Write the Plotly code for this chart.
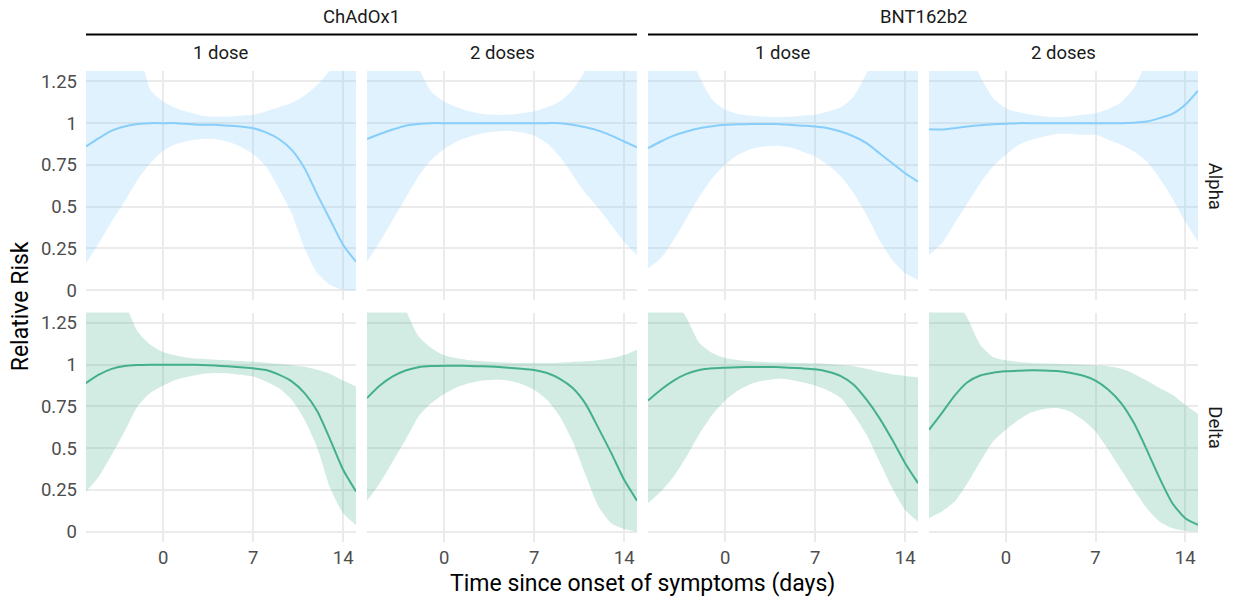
import plotly.graph_objects as go

days = list(range(-6, 16))

vaccines = ["ChAdOx1", "BNT162b2"]
doses = ["1 dose", "2 doses"]
variants = ["Alpha", "Delta"]

# Alpha ------------------------------------------------------------
alpha_chad_1_est = [0.86, 0.91, 0.955, 0.98, 0.995, 1.0, 1.0, 1.0, 0.995, 0.99, 0.99, 0.985, 0.98, 0.97, 0.945, 0.905, 0.84, 0.73, 0.57, 0.42, 0.27, 0.17]
alpha_chad_1_lo = [0.16, 0.28, 0.41, 0.53, 0.66, 0.76, 0.835, 0.875, 0.895, 0.905, 0.905, 0.89, 0.86, 0.815, 0.74, 0.61, 0.46, 0.25, 0.10, 0.03, 0.0, 0.0]
alpha_chad_1_hi = [2.1, 1.9, 1.75, 1.62, 1.48, 1.20, 1.13, 1.09, 1.065, 1.045, 1.04, 1.04, 1.045, 1.05, 1.07, 1.095, 1.12, 1.165, 1.23, 1.32, 1.5, 1.7]

alpha_chad_2_est = [0.905, 0.935, 0.962, 0.985, 0.995, 1.0, 1.0, 1.0, 1.0, 1.0, 1.0, 1.0, 1.0, 1.0, 1.0, 1.0, 0.99, 0.975, 0.955, 0.925, 0.89, 0.855]
alpha_chad_2_lo = [0.17, 0.29, 0.42, 0.55, 0.68, 0.78, 0.845, 0.89, 0.92, 0.94, 0.95, 0.955, 0.945, 0.925, 0.88, 0.80, 0.69, 0.58, 0.49, 0.39, 0.29, 0.21]
alpha_chad_2_hi = [2.2, 1.95, 1.7, 1.5, 1.33, 1.19, 1.13, 1.095, 1.07, 1.055, 1.05, 1.05, 1.06, 1.07, 1.095, 1.13, 1.20, 1.32, 1.5, 1.7, 1.95, 2.2]

alpha_bnt_1_est = [0.85, 0.89, 0.925, 0.95, 0.97, 0.982, 0.99, 0.993, 0.995, 0.995, 0.995, 0.99, 0.985, 0.98, 0.97, 0.95, 0.92, 0.88, 0.82, 0.76, 0.70, 0.65]
alpha_bnt_1_lo = [0.13, 0.19, 0.30, 0.43, 0.56, 0.67, 0.75, 0.81, 0.845, 0.86, 0.865, 0.855, 0.83, 0.80, 0.75, 0.68, 0.58, 0.45, 0.30, 0.18, 0.10, 0.06]
alpha_bnt_1_hi = [2.2, 1.9, 1.65, 1.45, 1.28, 1.14, 1.08, 1.055, 1.045, 1.04, 1.036, 1.038, 1.045, 1.05, 1.07, 1.095, 1.16, 1.30, 1.5, 1.7, 1.95, 2.2]

alpha_bnt_2_est = [0.963, 0.962, 0.97, 0.98, 0.988, 0.993, 0.996, 1.0, 1.0, 1.0, 1.0, 1.0, 1.0, 1.0, 1.0, 1.0, 1.003, 1.01, 1.03, 1.055, 1.11, 1.195]
alpha_bnt_2_lo = [0.21, 0.28, 0.40, 0.52, 0.64, 0.74, 0.81, 0.87, 0.90, 0.92, 0.935, 0.935, 0.93, 0.93, 0.90, 0.87, 0.83, 0.77, 0.67, 0.55, 0.41, 0.29]
alpha_bnt_2_hi = [2.2, 1.9, 1.65, 1.45, 1.28, 1.15, 1.09, 1.065, 1.05, 1.04, 1.036, 1.04, 1.05, 1.06, 1.085, 1.125, 1.21, 1.38, 1.6, 1.85, 2.1, 2.4]

# Delta ------------------------------------------------------------
delta_chad_1_est = [0.89, 0.94, 0.975, 0.992, 0.998, 1.0, 1.0, 1.0, 1.0, 0.998, 0.995, 0.99, 0.985, 0.978, 0.968, 0.94, 0.90, 0.83, 0.72, 0.55, 0.37, 0.24]
delta_chad_1_lo = [0.24, 0.33, 0.46, 0.60, 0.75, 0.83, 0.875, 0.91, 0.93, 0.945, 0.95, 0.948, 0.94, 0.93, 0.90, 0.86, 0.79, 0.67, 0.50, 0.26, 0.11, 0.04]
delta_chad_1_hi = [1.9, 1.7, 1.55, 1.38, 1.20, 1.12, 1.076, 1.055, 1.04, 1.035, 1.03, 1.027, 1.022, 1.018, 1.012, 1.005, 0.997, 0.988, 0.97, 0.945, 0.905, 0.87]

delta_chad_2_est = [0.80, 0.875, 0.93, 0.965, 0.985, 0.992, 0.994, 0.994, 0.992, 0.99, 0.987, 0.982, 0.976, 0.968, 0.95, 0.915, 0.86, 0.765, 0.62, 0.47, 0.31, 0.185]
delta_chad_2_lo = [0.185, 0.29, 0.42, 0.55, 0.69, 0.77, 0.825, 0.865, 0.89, 0.905, 0.91, 0.905, 0.885, 0.85, 0.79, 0.69, 0.54, 0.34, 0.15, 0.05, 0.015, 0.0]
delta_chad_2_hi = [1.9, 1.7, 1.5, 1.33, 1.17, 1.10, 1.056, 1.038, 1.026, 1.02, 1.016, 1.012, 1.01, 1.01, 1.01, 1.012, 1.016, 1.02, 1.026, 1.038, 1.058, 1.09]

delta_bnt_1_est = [0.785, 0.85, 0.905, 0.945, 0.968, 0.978, 0.982, 0.985, 0.986, 0.986, 0.986, 0.982, 0.978, 0.972, 0.958, 0.932, 0.88, 0.79, 0.68, 0.55, 0.41, 0.29]
delta_bnt_1_lo = [0.17, 0.24, 0.33, 0.45, 0.585, 0.70, 0.785, 0.845, 0.885, 0.905, 0.915, 0.91, 0.895, 0.875, 0.845, 0.80, 0.70, 0.58, 0.42, 0.26, 0.13, 0.06]
delta_bnt_1_hi = [1.75, 1.55, 1.4, 1.28, 1.13, 1.07, 1.04, 1.028, 1.02, 1.016, 1.013, 1.012, 1.01, 1.008, 1.004, 0.998, 0.99, 0.975, 0.957, 0.943, 0.933, 0.925]

delta_bnt_2_est = [0.61, 0.71, 0.815, 0.895, 0.935, 0.952, 0.96, 0.964, 0.966, 0.965, 0.962, 0.952, 0.935, 0.905, 0.85, 0.77, 0.65, 0.49, 0.32, 0.17, 0.08, 0.04]
delta_bnt_2_lo = [0.08, 0.12, 0.18, 0.29, 0.42, 0.54, 0.61, 0.67, 0.715, 0.735, 0.74, 0.72, 0.67, 0.60, 0.49, 0.37, 0.25, 0.14, 0.06, 0.02, 0.005, 0.0]
delta_bnt_2_hi = [1.75, 1.55, 1.4, 1.28, 1.12, 1.046, 1.026, 1.016, 1.01, 1.007, 1.006, 1.003, 1.0, 0.996, 0.99, 0.975, 0.945, 0.905, 0.86, 0.82, 0.76, 0.705]

x_ticks = [0, 7, 14]
y_ticks = [0, 0.25, 0.5, 0.75, 1, 1.25]

panels = {
    ("Alpha", "ChAdOx1", "1 dose"): (alpha_chad_1_est, alpha_chad_1_lo, alpha_chad_1_hi),
    ("Alpha", "ChAdOx1", "2 doses"): (alpha_chad_2_est, alpha_chad_2_lo, alpha_chad_2_hi),
    ("Alpha", "BNT162b2", "1 dose"): (alpha_bnt_1_est, alpha_bnt_1_lo, alpha_bnt_1_hi),
    ("Alpha", "BNT162b2", "2 doses"): (alpha_bnt_2_est, alpha_bnt_2_lo, alpha_bnt_2_hi),
    ("Delta", "ChAdOx1", "1 dose"): (delta_chad_1_est, delta_chad_1_lo, delta_chad_1_hi),
    ("Delta", "ChAdOx1", "2 doses"): (delta_chad_2_est, delta_chad_2_lo, delta_chad_2_hi),
    ("Delta", "BNT162b2", "1 dose"): (delta_bnt_1_est, delta_bnt_1_lo, delta_bnt_1_hi),
    ("Delta", "BNT162b2", "2 doses"): (delta_bnt_2_est, delta_bnt_2_lo, delta_bnt_2_hi),
}

line_colors = {"Alpha": "#87CEFA", "Delta": "#43B08A"}
fill_colors = {"Alpha": "rgba(135,206,250,0.27)", "Delta": "rgba(67,176,138,0.24)"}

# The body margin is removed by post_script, so figure pixels = page pixels
W, H = 1233, 601
col_px = [(86, 356), (367, 637), (648, 918), (929, 1198)]
row_px = [(70.6, 300.2), (312.3, 541.9)]
ml = col_px[0][0]
mr = W - col_px[3][1]
mt = row_px[0][0]
mb = H - row_px[1][1]
pw = W - ml - mr
ph = H - mt - mb

def px_x(p):
    return (p - ml) / pw

def px_y(p):
    return (H - mb - p) / ph

FONT = "Roboto"
GRID = "#EBEBEB"
TICK_SIZE = 18.5

fig = go.Figure()
layout_axes = {}
idx = 0
for r, variant in enumerate(variants):
    for c in range(4):
        vac = vaccines[c // 2]
        dose = doses[c % 2]
        idx += 1
        est, lo, hi = panels[(variant, vac, dose)]
        xa = "x" if idx == 1 else f"x{idx}"
        ya = "y" if idx == 1 else f"y{idx}"
        fig.add_trace(go.Scatter(x=days, y=lo, mode="lines", line=dict(width=0, shape="spline", smoothing=0.6),
                                 xaxis=xa, yaxis=ya, showlegend=False, hoverinfo="skip"))
        fig.add_trace(go.Scatter(x=days, y=hi, mode="lines", line=dict(width=0, shape="spline", smoothing=0.6),
                                 fill="tonexty", fillcolor=fill_colors[variant],
                                 xaxis=xa, yaxis=ya, showlegend=False, hoverinfo="skip"))
        fig.add_trace(go.Scatter(x=days, y=est, mode="lines",
                                 line=dict(color=line_colors[variant], width=2, shape="spline", smoothing=0.6),
                                 xaxis=xa, yaxis=ya, showlegend=False))
        x0, x1 = col_px[c]
        y0, y1 = row_px[r]
        xkey = "xaxis" if idx == 1 else f"xaxis{idx}"
        ykey = "yaxis" if idx == 1 else f"yaxis{idx}"
        layout_axes[xkey] = dict(
            domain=[px_x(x0), px_x(x1)], anchor=ya, range=[-6, 15],
            tickvals=x_ticks, showticklabels=(r == 1), showgrid=True, gridcolor=GRID, gridwidth=1.5,
            zeroline=False, showline=False, ticks="", ticklabelstandoff=2,
            tickfont=dict(family=FONT, size=TICK_SIZE, color="#4D4D4D"), fixedrange=True,
        )
        layout_axes[ykey] = dict(
            domain=[px_y(y1), px_y(y0)], anchor=xa, range=[-0.0625, 1.3125],
            tickvals=y_ticks, showticklabels=(c == 0), showgrid=True, gridcolor=GRID, gridwidth=1.5,
            zeroline=False, showline=False, ticks="", ticklabelstandoff=8,
            tickfont=dict(family=FONT, size=TICK_SIZE, color="#4D4D4D"), fixedrange=True,
        )

annotations = []
shapes = []
STRIP = dict(family=FONT, size=18.5, color="#1A1A1A")
# vaccine strips
for v, vac in enumerate(vaccines):
    xa0 = col_px[2 * v][0]
    xa1 = col_px[2 * v + 1][1]
    annotations.append(dict(text=vac, x=px_x((xa0 + xa1) / 2), y=px_y(17), xref="paper", yref="paper",
                            showarrow=False, font=STRIP, xanchor="center", yanchor="middle"))
    shapes.append(dict(type="line", xref="paper", yref="paper", x0=px_x(xa0), x1=px_x(xa1),
                       y0=px_y(34), y1=px_y(34), line=dict(color="black", width=2)))
# dose strips
for c in range(4):
    annotations.append(dict(text=doses[c % 2], x=px_x((col_px[c][0] + col_px[c][1]) / 2), y=px_y(53),
                            xref="paper", yref="paper", showarrow=False,
                            font=STRIP, xanchor="center", yanchor="middle"))
# variant strips
for r, variant in enumerate(variants):
    annotations.append(dict(text=variant, x=px_x(1215), y=px_y((row_px[r][0] + row_px[r][1]) / 2),
                            xref="paper", yref="paper", showarrow=False, textangle=90,
                            font=STRIP, xanchor="center", yanchor="middle"))
# axis titles
TITLE = dict(family=FONT, size=23, color="black")
annotations.append(dict(text="Relative Risk", x=px_x(20), y=px_y(306), xref="paper", yref="paper",
                        showarrow=False, textangle=-90, font=TITLE, xanchor="center", yanchor="middle"))
annotations.append(dict(text="Time since onset of symptoms (days)", x=px_x(642), y=px_y(583), xref="paper",
                        yref="paper", showarrow=False, font=TITLE, xanchor="center", yanchor="middle"))

fig.update_layout(
    width=W, height=H, margin=dict(l=ml, r=mr, t=mt, b=mb),
    paper_bgcolor="white", plot_bgcolor="white",
    annotations=annotations, shapes=shapes, showlegend=False,
    font=dict(family=FONT), **layout_axes,
)

fig.write_html(
    "out.html",
    config={"displayModeBar": False},
    post_script="document.body.style.margin='0';document.body.style.overflow='hidden';",
)
